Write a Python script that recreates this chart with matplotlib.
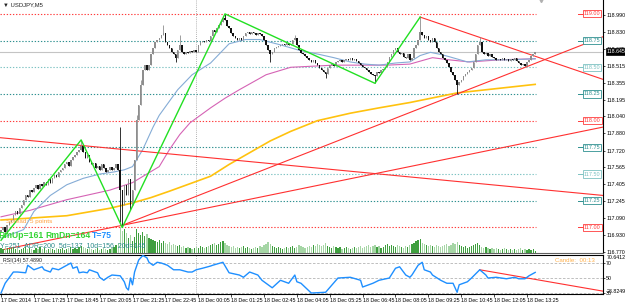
import numpy as np
import matplotlib
matplotlib.use('Agg')
import matplotlib.pyplot as plt
import matplotlib.transforms as mtransforms

plt.rcParams['font.family'] = ['Liberation Sans', 'DejaVu Sans']

# ---- data (USDJPY M5, bar index 0 = 17 Dec 16:05) ----
closes = [
    116.98, 117.00, 116.96, 117.02, 117.05, 117.07, 117.12, 117.15, 117.13, 117.18,
    117.21, 117.26, 117.30, 117.29, 117.35, 117.33, 117.37, 117.40, 117.36, 117.41,
    117.39, 117.43, 117.40, 117.45, 117.42, 117.46, 117.49, 117.47, 117.52, 117.54,
    117.56, 117.59, 117.61, 117.58, 117.63, 117.66, 117.68, 117.71, 117.73, 117.76,
    117.71, 117.65, 117.68, 117.61, 117.59, 117.60, 117.56, 117.58, 117.54, 117.59,
    117.56, 117.52, 117.54, 117.57, 117.54, 117.56, 117.59, 117.54, 117.35, 117.21,
    117.40, 117.30, 117.45, 117.21, 117.35, 117.63, 118.01, 118.15, 118.33, 118.47,
    118.52, 118.47, 118.52, 118.62, 118.68, 118.74, 118.76, 118.77, 118.80, 118.82,
    118.74, 118.71, 118.68, 118.64, 118.62, 118.59, 118.66, 118.71, 118.64, 118.62,
    118.64, 118.63, 118.65, 118.64, 118.66, 118.64, 118.71, 118.74, 118.75, 118.74,
    118.76, 118.75, 118.79, 118.85, 118.83, 118.87, 118.90, 118.92, 118.96, 118.94,
    118.89, 118.87, 118.82, 118.79, 118.77, 118.76, 118.77, 118.76, 118.79, 118.82,
    118.83, 118.81, 118.83, 118.82, 118.80, 118.82, 118.81, 118.79, 118.76, 118.71,
    118.66, 118.62, 118.64, 118.68, 118.69, 118.70, 118.71, 118.72, 118.71, 118.73,
    118.71, 118.72, 118.76, 118.77, 118.71, 118.66, 118.63, 118.62, 118.61, 118.59,
    118.57, 118.55, 118.57, 118.54, 118.52, 118.49, 118.47, 118.46, 118.44, 118.49,
    118.52, 118.53, 118.51, 118.55, 118.56, 118.57, 118.55, 118.57, 118.58, 118.57,
    118.59, 118.57, 118.58, 118.56, 118.54, 118.52, 118.50, 118.49, 118.47, 118.46,
    118.44, 118.43, 118.42, 118.46, 118.45, 118.47, 118.48, 118.50, 118.55, 118.60,
    118.62, 118.66, 118.68, 118.64, 118.62, 118.63, 118.60, 118.59, 118.62, 118.57,
    118.59, 118.68, 118.71, 118.76, 118.83, 118.80, 118.77, 118.79, 118.76, 118.74,
    118.77, 118.74, 118.68, 118.64, 118.62, 118.59, 118.57, 118.54, 118.50, 118.46,
    118.43, 118.38, 118.33, 118.36, 118.38, 118.42, 118.44, 118.46, 118.47, 118.49,
    118.55, 118.62, 118.71, 118.74, 118.64, 118.62, 118.63, 118.61, 118.62, 118.60,
    118.59, 118.57, 118.58, 118.57, 118.59, 118.57, 118.58, 118.56, 118.58, 118.57,
    118.59, 118.56, 118.54, 118.52, 118.53, 118.51, 118.55, 118.57, 118.61, 118.62,
    118.645]
first_open = 116.96
wick_high = {39: 117.82, 58: 117.94, 66: 118.05, 68: 118.38, 79: 118.90, 87: 118.80,
             109: 119.00, 143: 118.80, 204: 118.97, 233: 118.78}
wick_low = {58: 117.05, 59: 117.00, 63: 117.16, 85: 118.55, 131: 118.55, 158: 118.40,
            182: 118.35, 222: 118.25}

volumes = [
    50, 40, 60, 50, 40, 50, 60, 40, 50, 30, 40, 50, 60, 40, 50, 40, 30, 50, 40, 60,
    40, 50, 30, 40, 50, 40, 30, 50, 40, 40, 50, 30, 40, 50, 60, 40, 50, 40, 60, 70,
    60, 50, 40, 50, 40, 30, 40, 50, 30, 40, 50, 40, 30, 40, 50, 60, 80, 100, 260, 220,
    240, 200, 150, 180, 120, 160, 240, 200, 180, 210, 170, 190, 150, 140, 130, 120, 110, 130, 100, 120,
    100, 90, 110, 80, 90, 80, 70, 80, 60, 70, 50, 60, 50, 40, 50, 60, 50, 70, 60, 50,
    60, 70, 80, 90, 100, 80, 90, 110, 120, 100, 80, 70, 60, 70, 50, 60, 50, 60, 70, 50,
    60, 50, 40, 50, 60, 50, 70, 60, 80, 90, 110, 90, 70, 60, 50, 60, 50, 40, 50, 60,
    50, 60, 70, 50, 60, 80, 70, 60, 50, 60, 70, 60, 80, 70, 90, 80, 70, 80, 100, 70,
    60, 50, 70, 60, 50, 60, 40, 50, 60, 50, 40, 50, 60, 50, 60, 70, 50, 60, 70, 80,
    60, 70, 80, 60, 70, 50, 60, 80, 90, 70, 80, 70, 60, 80, 70, 60, 50, 70, 60, 80,
    90, 100, 120, 130, 140, 100, 90, 80, 70, 80, 70, 60, 80, 70, 60, 70, 80, 90, 70, 80,
    100, 90, 110, 80, 70, 60, 70, 50, 60, 70, 80, 90, 100, 80, 60, 50, 60, 50, 40, 50,
    40, 50, 40, 30, 40, 50, 40, 30, 40, 30, 40, 30, 40, 50, 30, 40, 30, 40, 30, 40, 20]

# moving averages, read at the bars where they could be picked out
ma_fast_idx = [0, 11, 16, 24, 32, 40, 48, 55, 60, 64, 69, 74, 77, 86, 93, 102, 107, 111, 119, 126,
               136, 145, 155, 162, 170, 177, 184, 192, 199, 204, 209, 214, 218, 227, 236, 248, 260]
ma_fast = [116.90, 116.98, 117.15, 117.30, 117.40, 117.46, 117.50, 117.52, 117.54, 117.57,
           117.73, 117.94, 118.05, 118.29, 118.43, 118.54, 118.64, 118.72, 118.76, 118.76,
           118.71, 118.66, 118.62, 118.59, 118.55, 118.53, 118.52, 118.54, 118.55, 118.61,
           118.64, 118.62, 118.60, 118.55, 118.57, 118.57, 118.58]
ma_mid_idx = [0, 14, 32, 53, 64, 77, 82, 87, 92, 97, 102, 109, 116, 129, 141, 162, 188, 199,
              210, 218, 228, 243, 260]
ma_mid = [117.10, 117.16, 117.26, 117.35, 117.42, 117.57, 117.73, 117.87, 117.98, 118.05,
          118.12, 118.21, 118.29, 118.43, 118.50, 118.52, 118.52, 118.53, 118.59, 118.57,
          118.55, 118.57, 118.58]
ma_slow_idx = [0, 32, 53, 64, 73, 82, 92, 102, 111, 121, 131, 141, 154, 170, 184, 199, 222, 260]
ma_slow = [117.07, 117.11, 117.18, 117.23, 117.28, 117.34, 117.41, 117.48, 117.59, 117.70,
           117.81, 117.90, 118.00, 118.07, 118.12, 118.17, 118.26, 118.34]

zz_idx = [0, 39, 59, 109, 182, 204]
zz_val = [116.88, 117.82, 117.00, 119.00, 118.35, 118.97]

rsi_idx = [0, 2, 6, 8, 12, 13, 14, 16, 18, 20, 21, 24, 25, 28, 32, 34, 35, 37, 38, 40,
           42, 43, 47, 48, 50, 52, 54, 58, 60, 61, 62, 63, 64, 65, 67, 69, 71, 72, 74, 76,
           78, 81, 82, 84, 87, 91, 93, 95, 98, 102, 103, 108, 111, 116, 118, 121, 125, 127, 132, 136,
           140, 143, 144, 146, 151, 158, 164, 170, 175, 176, 181, 184, 189, 192, 194, 197, 199, 200, 203, 205,
           206, 209, 210, 214, 217, 220, 222, 223, 227, 229, 233, 236, 237, 241, 246, 250, 252, 255, 257, 260]
rsi_val = [30, 43, 58, 58, 57, 67, 65, 61, 63, 65, 61, 58, 63, 61, 67, 70, 63, 65, 57, 58,
           57, 61, 57, 51, 47, 51, 54, 53, 45, 37, 34, 50, 41, 58, 74, 80, 77, 71, 67, 71,
           70, 67, 65, 61, 61, 58, 58, 61, 63, 66, 67, 71, 57, 54, 51, 58, 54, 47, 37, 47,
           43, 54, 45, 43, 30, 31, 50, 51, 47, 38, 43, 47, 50, 63, 65, 54, 51, 54, 67, 71,
           61, 58, 54, 47, 43, 43, 31, 41, 45, 50, 61, 54, 50, 51, 49, 51, 49, 49, 53, 57.49]

# trend lines: (bar, price) anchors
trend_full = [((0, 117.84), (293, 117.30)), ((59, 117.02), (293, 117.94))]
trend_ray = [((59, 117.02), (222, 118.25)), ((204, 118.97), (233, 118.78))]
rsi_trend = ((233, 61.0), (293, 32.5))

levels = [119.00, 118.75, 118.50, 118.25, 118.00, 117.75, 117.50, 117.25, 117.00]
price_ticks = [118.990, 118.830, 118.675, 118.515, 118.355, 118.195, 118.040, 117.880,
               117.720, 117.565, 117.405, 117.245, 117.090, 116.930, 116.770]
time_labels = ['17 Dec 2014', '17 Dec 17:25', '17 Dec 18:45', '17 Dec 20:05', '17 Dec 21:25',
               '17 Dec 22:45', '18 Dec 00:05', '18 Dec 01:25', '18 Dec 02:45', '18 Dec 04:05',
               '18 Dec 05:25', '18 Dec 06:45', '18 Dec 08:05', '18 Dec 09:25', '18 Dec 10:45',
               '18 Dec 12:05', '18 Dec 13:25']
day_break = 95
shift_bar = 263
bid = 118.645

FS = 3.8  # axis label size, the screenshot text is tiny

# ---- figure ----
fig = plt.figure(figsize=(6.25, 3.06), dpi=100)
W, H = 625, 306
ax = fig.add_axes([0, 1 - 253 / H, 603 / W, 253 / H])
rax = fig.add_axes([0, 1 - 294 / H, 603 / W, 39 / H], sharex=ax)
XMAX = 293
ax.set_xlim(-0.5, XMAX)
ax.set_ylim(116.761, 119.13)

n = len(closes)
x = np.arange(n)
c = np.array(closes)
o = np.r_[first_open, c[:-1]]
hi = np.maximum(o, c)
lo = np.minimum(o, c)
for k, v in wick_high.items():
    hi[k] = v
for k, v in wick_low.items():
    lo[k] = v
up = c >= o

# volume on its own scale at the bottom of the price panel
vax = ax.twinx()
vax.set_ylim(0, 2530)
vax.axis('off')
vcol = np.where(up, '#3f9f3f', '#a6d6a6')
vax.bar(x, volumes, width=0.6, color=vcol, linewidth=0, zorder=1)

# horizontal levels with boxed labels
for lv in levels:
    whole = abs(lv - round(lv)) < 1e-6
    half = abs(lv * 2 - round(lv * 2)) < 1e-6
    col = '#ff3b3b' if whole else ('#7cc2c2' if half else '#2e9090')
    ax.plot([-0.5, n - 0.5], [lv, lv], ls=(0, (1.2, 1.6)), lw=0.8, color=col, zorder=2)
    ax.plot([280.6, 283.2], [lv, lv], lw=0.7, color=col, zorder=2)
    ax.text(283.6, lv, f'{lv:.2f}', ha='left', va='center', fontsize=4.0, color=col, zorder=6,
            bbox=dict(boxstyle='square,pad=0.2', fc='white', ec=col, lw=0.6))

ax.axhline(bid, color='#c4c4c4', lw=0.8, zorder=2)
ax.axvline(day_break, color='#9a9a9a', lw=0.6, ls=(0, (1, 1.5)), zorder=2)
ax.plot([shift_bar], [1.0], marker='v', ms=3, color='#b0b0b0',
        transform=mtransforms.blended_transform_factory(ax.transData, ax.transAxes),
        clip_on=False, zorder=6)

# moving averages
ax.plot(ma_slow_idx, ma_slow, color='#ffc20e', lw=1.2, zorder=3)
ax.plot(ma_mid_idx, ma_mid, color='#d563b5', lw=0.8, zorder=3)
ax.plot(ma_fast_idx, ma_fast, color='#85acd6', lw=0.8, zorder=3)

# trend lines
def line_at(p1, p2, xs):
    k = (p2[1] - p1[1]) / (p2[0] - p1[0])
    return [p1[1] + k * (xx - p1[0]) for xx in xs]

for p1, p2 in trend_full:
    ax.plot([-0.5, XMAX], line_at(p1, p2, [-0.5, XMAX]), color='#ff3030', lw=0.8, zorder=3)
for p1, p2 in trend_ray:
    ax.plot([p1[0], XMAX], line_at(p1, p2, [p1[0], XMAX]), color='#ff3030', lw=0.8, zorder=3)

# candles
ccol = np.where(up, '#8e8e8e', '#111111')
ax.vlines(x, lo, hi, colors=ccol, lw=0.6, zorder=4)
ax.bar(x, np.maximum(np.abs(c - o), 0.004), bottom=np.minimum(o, c), width=0.7,
       color=ccol, linewidth=0, zorder=4)

# zigzag
ax.plot(zz_idx, zz_val, color='#22e022', lw=1.0, zorder=5)

# axis styling, price panel
for s in ['left', 'top']:
    ax.spines[s].set_visible(False)
ax.spines['right'].set_color('black')
ax.spines['right'].set_linewidth(0.8)
ax.spines['bottom'].set_color('#606060')
ax.spines['bottom'].set_linewidth(0.8)
ax.tick_params(axis='x', bottom=False, labelbottom=False)
ax.yaxis.tick_right()
ax.set_yticks(price_ticks)
ax.set_yticklabels([f'{t:.3f}' for t in price_ticks])
ax.tick_params(axis='y', length=1.5, width=0.5, pad=0.8, labelsize=FS)
tr = mtransforms.blended_transform_factory(ax.transAxes, ax.transData)
ax.text(1.006, bid, f'{bid:.3f}', transform=tr, ha='left', va='center', fontsize=FS,
        color='white', zorder=10, clip_on=False,
        bbox=dict(boxstyle='square,pad=0.2', fc='black', ec='black', lw=0.5))

# overlay texts
fig.text(3 / W, 1 - 5 / H, '\u25bc USDJPY,M5', fontsize=4.2, va='center', ha='left', color='#222222')
fig.text(6 / W, 1 - 222 / H, 'Spread: 5 points', fontsize=4.6, va='center', ha='left',
         color='#ffa040', zorder=8)
fig.text(-2 / W, 1 - 235 / H, 'RmUp=161', fontsize=6.2, va='center', ha='left',
         color='#33d433', fontweight='bold', zorder=8)
fig.text(45 / W, 1 - 235 / H, 'RmDn=164', fontsize=6.2, va='center', ha='left',
         color='#33d433', fontweight='bold', zorder=8)
fig.text(92 / W, 1 - 235 / H, 'T=75', fontsize=6.2, va='center', ha='left',
         color='#1e90ff', fontweight='bold', zorder=8)
fig.text(0, 1 - 247 / H, 'Y=251  ADR=200  5d=137  10d=156  20d=145', fontsize=5, va='center',
         ha='left', color='#2a8a8a', zorder=8)

# ---- RSI panel ----
rax.set_ylim(28.7, 80.7)
for lv in [70, 50, 30]:
    rax.axhline(lv, color='#b4b4b4', lw=0.6, ls=(0, (3, 2)), zorder=1)
rax.axvline(day_break, color='#9a9a9a', lw=0.6, ls=(0, (1, 1.5)), zorder=1)
rax.plot(rsi_idx, rsi_val, color='#1e8fff', lw=1.0, zorder=3)
rax.plot([rsi_trend[0][0], XMAX], line_at(rsi_trend[0], rsi_trend[1], [rsi_trend[0][0], XMAX]),
         color='#ff3030', lw=0.8, zorder=2)
rax.spines['left'].set_visible(False)
for s in ['top', 'right', 'bottom']:
    rax.spines[s].set_color('black')
    rax.spines[s].set_linewidth(0.8)
rax.yaxis.tick_right()
rax.set_yticks([70, 50, 30])
rax.set_yticklabels(['70', '50', '30'])
rax.tick_params(axis='y', length=1.5, width=0.5, pad=0.8, labelsize=FS)
rax.text(1.006, 1.0, '70.6412', transform=rax.transAxes, ha='left', va='top', fontsize=FS,
         clip_on=False)
rax.text(1.006, 0.0, '28.8249', transform=rax.transAxes, ha='left', va='bottom', fontsize=FS,
         clip_on=False)
rax.text(0.005, 0.93, 'RSI(14) 57.4890', transform=rax.transAxes, ha='left', va='top',
         fontsize=3.8, color='#222222')
rax.text(0.92, 0.93, 'Candle:  00:13', transform=rax.transAxes, ha='left', va='top',
         fontsize=4.4, color='#ffb04a')
rax.set_xticks(range(0, 16 * len(time_labels), 16))
rax.set_xticklabels(time_labels, ha='left')
rax.tick_params(axis='x', length=2, width=0.5, pad=1.0, labelsize=FS)

fig.savefig('out.png', dpi=100, facecolor='white')
